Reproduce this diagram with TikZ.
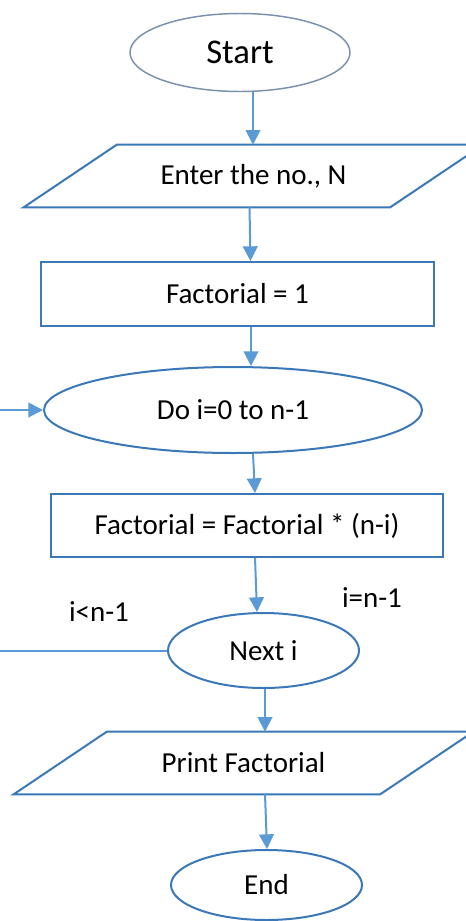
\documentclass[tikz,border=0pt]{standalone}
\usepackage{fontspec}
\setmainfont{Carlito}
\usetikzlibrary{arrows.meta,shapes.geometric,calc}
\definecolor{outl}{HTML}{3B78B8}
\definecolor{arrc}{HTML}{5B9BD5}
\definecolor{startc}{HTML}{7A91AE}
\begin{document}
\begin{tikzpicture}[x=0.75pt,y=-0.75pt,
 txt/.style={font=\fontsize{21.75}{26}\selectfont, text=black},
 term/.style={ellipse, draw=outl, line width=1.5pt, inner sep=0pt, txt},
 procbox/.style={rectangle, draw=outl, line width=1.5pt, inner sep=0pt, txt},
 iobox/.style={rectangle, inner sep=0pt, txt},
 para/.style={draw=outl, line width=1.5pt, line join=miter},
 arr/.style={draw=arrc, line width=1.5pt, -{Triangle[length=11pt,width=11pt]}},
 lbl/.style={txt}]
\useasboundingbox (0,0) rectangle (466,921);
\fill[white] (0,0) rectangle (466,921);

\node[term, draw=startc, line width=1.1pt, minimum width=165pt, minimum height=58.5pt,
      font=\fontsize{26}{31}\selectfont] (start) at (240,52.5) {Start};
\node[iobox, minimum width=274.5pt, minimum height=46.5pt] (enter) at (253.5,176) {Enter the no., N};
\node[procbox, minimum width=294.75pt, minimum height=48pt] (fact1) at (237.5,294) {Factorial = 1};
\node[term, minimum width=283.5pt, minimum height=64.5pt] (do) at (233,410) {Do i=0 to n-1};
\node[procbox, minimum width=294pt, minimum height=47.25pt] (factn) at (247,525.5) {Factorial = Factorial * (n-i)};
\node[term, minimum width=143.25pt, minimum height=56.25pt] (next) at (263.5,650.5) {Next i};
\node[iobox, minimum width=274.5pt, minimum height=46.5pt] (print) at (243.5,763) {Print Factorial};
\node[term, minimum width=143.25pt, minimum height=52.5pt] (end) at (266.5,885) {End};

\node[lbl] (lt) at (99,612) {i<n-1};
\node[lbl] (eq) at (372,598) {i=n-1};

\draw[para] ($(enter.south west)+(-46.5,0)$) -- ($(enter.north west)+(46.5,0)$)
  -- ($(enter.north east)+(46.5,0)$) -- ($(enter.south east)+(-46.5,0)$) -- cycle;
\draw[para] ($(print.south west)+(-46.5,0)$) -- ($(print.north west)+(46.5,0)$)
  -- ($(print.north east)+(46.5,0)$) -- ($(print.south east)+(-46.5,0)$) -- cycle;

\draw[arr] ($(start.south)+(13,0)$) -- (enter.north -| 253,0);
\draw[arr] ($(enter.south)+(-4,0)$) -- ($(fact1.north)+(13,0)$);
\draw[arr] ($(fact1.south)+(13.5,0)$) -- ($(do.north)+(18,0)$);
\draw[arr] ($(do.south)+(20,0)$) -- ($(factn.north)+(8,0)$);
\draw[arr] ($(factn.south)+(8,0)$) -- ($(next.north)+(-6.5,0)$);
\draw[arr] ($(next.south)+(1.5,0)$) -- ($(print.north)+(21.5,0)$);
\draw[arr] ($(print.south)+(21.5,0)$) -- ($(end.north)+(0.5,0)$);

\coordinate (loopc) at (-10,0);
\draw[arr] (next.west) -- (next.west -| loopc) -- (loopc |- do.west) -- (do.west);
\end{tikzpicture}
\end{document}
